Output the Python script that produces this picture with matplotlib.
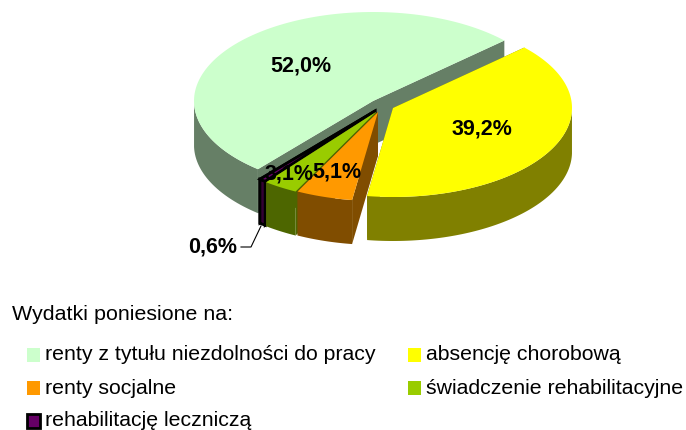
"""
Wykres kolowy 3D: wydatki poniesione na renty, absencje i rehabilitacje.
"""

import matplotlib

matplotlib.use("Agg")

import matplotlib.pyplot as plt
import numpy as np
from matplotlib.patches import Polygon, Rectangle

plt.rcParams["font.family"] = ["Liberation Sans", "DejaVu Sans"]

TITLE = "Wydatki poniesione na:"
categories = [
    "renty z tytułu niezdolności do pracy",
    "absencję chorobową",
    "renty socjalne",
    "świadczenie rehabilitacyjne",
    "rehabilitację leczniczą",
]
values = [52.0, 39.2, 5.1, 3.1, 0.6]
value_labels = ["52,0%", "39,2%", "5,1%", "3,1%", "0,6%"]
top_colors = ["#CCFFCC", "#FFFF00", "#FF9900", "#99CC00", "#660066"]
side_colors = ["#667F66", "#808000", "#804D00", "#4D6600", "#330033"]

# geometria w pikselach obrazka
CENTER_X, CENTER_Y = 373, 101
RADIUS_X, RADIUS_Y = 179, 89
DEPTH = 44
START_ANGLE = 230
apex_shift = [(0, 0), (20, 7), (5, 11), (3, 11), (2, 10)]
edge_colors = [None, None, None, None, "black"]
label_pos = [(301, 66), (482, 129), (337, 172), (289, 174), (213, 247)]
legend_pos = [(27, 355), (408, 355), (27, 388), (408, 388), (27, 421)]


def rim_points(angles, apex):
    rad = np.radians(angles)
    x = apex[0] + RADIUS_X * np.cos(rad)
    y = apex[1] - RADIUS_Y * np.sin(rad)
    return np.column_stack([x, y])


def draw_slice(ax, a_from, a_to, shift, top_color, side_color, edge, z):
    apex = (CENTER_X + shift[0], CENTER_Y + shift[1])
    lw = 2 if edge else 0
    ec = edge if edge else "none"
    angles = np.linspace(a_from, a_to, 120)
    rim = rim_points(angles, apex)
    drop = np.array([0, DEPTH])

    # sciany promieniowe
    for end in (rim[0], rim[-1]):
        face = [apex, end, end + drop, np.array(apex) + drop]
        ax.add_patch(Polygon(face, closed=True, facecolor=side_color,
                             edgecolor=ec, linewidth=lw, zorder=z))

    # sciana zewnetrzna, tylko przednia polowa
    front = np.sin(np.radians(angles)) <= 0
    if front.any():
        arc = rim[front]
        outer = np.vstack([arc, (arc + drop)[::-1]])
        ax.add_patch(Polygon(outer, closed=True, facecolor=side_color,
                             edgecolor=ec, linewidth=lw, zorder=z + 0.1))

    top = np.vstack([[apex], rim])
    ax.add_patch(Polygon(top, closed=True, facecolor=top_color,
                         edgecolor=ec, linewidth=lw, zorder=z + 0.2))


fig = plt.figure(figsize=(6.86, 4.30), dpi=100)
ax = fig.add_axes([0, 0, 1, 1])
ax.set_xlim(0, 686)
ax.set_ylim(430, 0)
ax.axis("off")

# katy liczone z wartosci, zgodnie z ruchem wskazowek zegara
sweeps = np.array(values) * 3.6
ends = START_ANGLE - np.cumsum(sweeps)
starts = ends + sweeps

# kolejnosc rysowania: od tylu do przodu
for z, i in enumerate([0, 1, 4, 3, 2]):
    draw_slice(ax, starts[i], ends[i], apex_shift[i], top_colors[i],
               side_colors[i], edge_colors[i], z + 1)

for label, (x, y) in zip(value_labels, label_pos):
    ax.text(x, y, label, ha="center", va="center", fontsize=15.5,
            fontweight="bold", color="black", zorder=10)

# linia odniesienia do 0,6%
ax.plot([241, 251, 261], [247, 247, 226], color="black", lw=0.8, zorder=10)

ax.text(12, 315, TITLE, ha="left", va="center", fontsize=15.4, color="black")

for name, color, edge, (x, y) in zip(categories, top_colors, edge_colors, legend_pos):
    ax.add_patch(Rectangle((x, y - 7), 13, 14, facecolor=color,
                           edgecolor=edge if edge else "none",
                           linewidth=2 if edge else 0))
    ax.text(x + 18, y, name, ha="left", va="center", fontsize=15.3, color="black")

fig.savefig("out.png", dpi=100)
